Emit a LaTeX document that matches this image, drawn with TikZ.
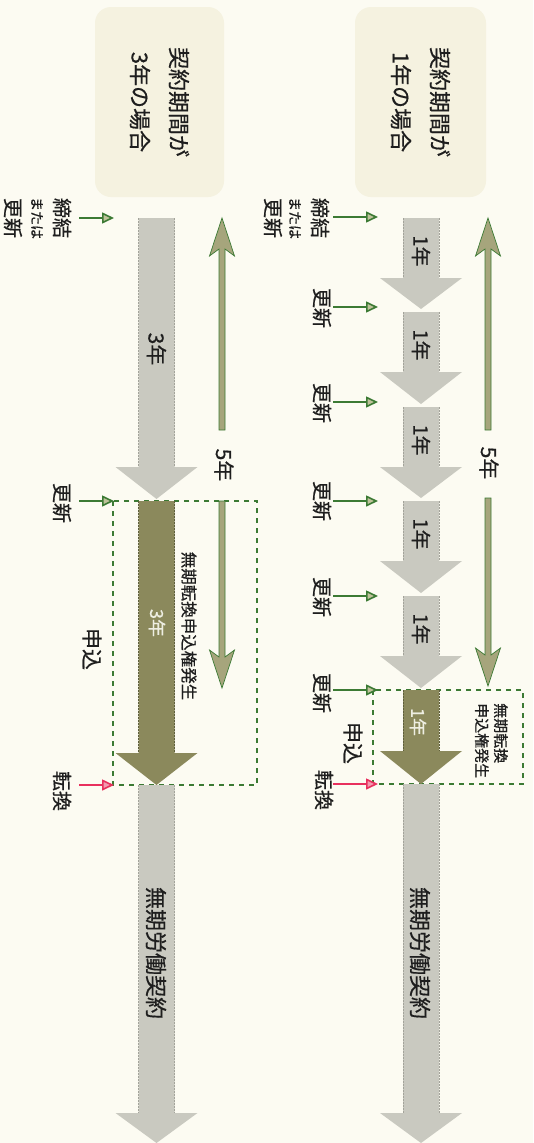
\documentclass[tikz,border=0pt]{standalone}
\usepackage{fontspec}
\setmainfont{Noto Sans CJK JP}[FakeBold=0.6]
\usetikzlibrary{arrows.meta}
\definecolor{bg}{HTML}{FCFBF2}
\definecolor{boxfill}{HTML}{F5F2E0}
\definecolor{grayarr}{HTML}{C9C9C0}
\definecolor{grayedge}{HTML}{A3A39A}
\definecolor{olivearr}{HTML}{8B895C}
\definecolor{oliveedge}{HTML}{5E5E3A}
\definecolor{fiveyr}{HTML}{A6A57C}
\definecolor{dkgreen}{HTML}{3C7A34}
\definecolor{pinkred}{HTML}{E8305E}
\definecolor{pinkhead}{HTML}{F29AB0}
\definecolor{headfill}{HTML}{BFC29A}
\definecolor{txt}{HTML}{1E1E1E}
\definecolor{paletxt}{HTML}{EEEEE2}

\newcommand\myarrow[5]{% xc, top, base, tip, colour name
  \fill[#5] (#1-18,#2) -- (#1+18,#2) -- (#1+18,#3) -- (#1+41,#3) -- (#1,#4) -- (#1-41,#3) -- (#1-18,#3) -- cycle;
  \draw[baredge, draw=#5edge] (#1-18,#2) -- (#1-18,#3) (#1+18,#2) -- (#1+18,#3);}
\colorlet{grayarredge}{grayedge}
\colorlet{olivearredge}{oliveedge}
\newcommand\fiveup[3]{% x, tip, shaft end
  \filldraw[fivestyle] (#1,#2) -- (#1+12.5,#2+38) -- (#1+3,#2+31) -- (#1+3,#3) -- (#1-3,#3) -- (#1-3,#2+31) -- (#1-12.5,#2+38) -- cycle;}
\newcommand\fivedown[3]{% x, shaft start, tip
  \filldraw[fivestyle] (#1-3,#2) -- (#1+3,#2) -- (#1+3,#3-31) -- (#1+12.5,#3-38) -- (#1,#3) -- (#1-12.5,#3-38) -- (#1-3,#3-31) -- cycle;}

\tikzset{
  vtext/.style={rotate=-90, text=txt, inner sep=0pt, font=\fontsize{20}{24}\selectfont},
  smalltext/.style={vtext, font=\fontsize{14}{16}\selectfont},
  titletext/.style={vtext, align=center, font=\fontsize{22}{39}\selectfont},
  yeartext/.style={vtext, font=\fontsize{20}{24}\selectfont},
  paleyear/.style={vtext, text=paletxt, font=\fontsize{18}{20}\selectfont},
  righttext/.style={vtext, align=left, font=\fontsize{15}{19}\selectfont},
  labelbox/.style={fill=boxfill, rounded corners=16pt, inner sep=0pt},
  baredge/.style={line width=0.6pt, dash pattern=on 1.5pt off 1.5pt},
  fivestyle/.style={fill=fiveyr, draw=dkgreen, line width=0.7pt},
  smallarr/.style={draw=dkgreen, line width=1.6pt, -{Triangle[length=12pt,width=11pt,fill=headfill]}},
  redarr/.style={draw=pinkred, line width=1.6pt, -{Triangle[length=12pt,width=11pt,fill=pinkhead]}},
  dashbox/.style={draw=dkgreen, line width=2.2pt, dash pattern=on 5pt off 5pt},
}

\begin{document}
\begin{tikzpicture}[x=1pt, y=-1pt]
\useasboundingbox (0,0) rectangle (533,1143);
\fill[bg] (0,0) rectangle (533,1143);

% ---------- title boxes ----------
\node[labelbox, minimum width=131pt, minimum height=190pt] (boxA) at (420.5,102) {};
\node[titletext] (titleA) at (boxA.center) {契約期間が\\1年の場合};
\node[labelbox, minimum width=129pt, minimum height=190pt] (boxB) at (159.5,102) {};
\node[titletext] (titleB) at (boxB.center) {契約期間が\\3年の場合};

% ---------- dashed boxes ----------
\draw[dashbox] (373,690) rectangle (523,784);
\draw[dashbox] (113,501) rectangle (257,785);

% ---------- right column: 1-year contracts ----------
\myarrow{421}{218}{278}{309}{grayarr}
\myarrow{421}{312}{372}{404}{grayarr}
\myarrow{421}{407}{467}{498}{grayarr}
\myarrow{421}{501}{561}{593}{grayarr}
\myarrow{421}{596}{656}{688}{grayarr}
\myarrow{421}{690}{751}{784}{olivearr}
\myarrow{421}{784}{1113}{1143}{grayarr}
\node[yeartext] (r1) at (421,251) {1年};
\node[yeartext] (r2) at (421,345) {1年};
\node[yeartext] (r3) at (421,440) {1年};
\node[yeartext] (r4) at (421,534) {1年};
\node[yeartext] (r5) at (421,629) {1年};
\node[paleyear] (r6) at (418,722) {1年};
\node[vtext, font=\fontsize{22}{24}\selectfont] (rlong) at (420,953) {無期労働契約};

% 5-year span, right
\fiveup{488}{218}{430}
\fivedown{488}{498}{686}
\node[vtext, font=\fontsize{21}{24}\selectfont] (r5y) at (489,463) {5年};
\node[righttext, anchor=north west] (rnote) at (508,703) {無期転換\\申込権発生};

% labels and small arrows, right
\node[vtext] (rl1a) at (320,218) {締結};
\node[smalltext] (rl1b) at (295,218) {または};
\node[vtext] (rl1c) at (273,218) {更新};
\node[vtext] (rl2) at (322,308) {更新};
\node[vtext] (rl3) at (322,403) {更新};
\node[vtext] (rl4) at (322,501) {更新};
\node[vtext] (rl5) at (322,597) {更新};
\node[vtext] (rl6) at (322,693) {更新};
\node[vtext] (rconv) at (324,790) {転換};
\node[vtext, font=\fontsize{21}{24}\selectfont] (rapp) at (353,743) {申込};
\coordinate (ra1s) at (333,217); \coordinate (ra1e) at (378,217);
\coordinate (ra2s) at (333,307); \coordinate (ra2e) at (378,307);
\coordinate (ra3s) at (333,402); \coordinate (ra3e) at (378,402);
\coordinate (ra4s) at (333,501); \coordinate (ra4e) at (378,501);
\coordinate (ra5s) at (333,596); \coordinate (ra5e) at (378,596);
\coordinate (ra6s) at (333,690); \coordinate (ra6e) at (378,690);
\coordinate (ra7s) at (333,784); \coordinate (ra7e) at (378,784);
\draw[smallarr] (ra1s) -- (ra1e);
\draw[smallarr] (ra2s) -- (ra2e);
\draw[smallarr] (ra3s) -- (ra3e);
\draw[smallarr] (ra4s) -- (ra4e);
\draw[smallarr] (ra5s) -- (ra5e);
\draw[smallarr] (ra6s) -- (ra6e);
\draw[redarr] (ra7s) -- (ra7e);

% ---------- left column: 3-year contracts ----------
\myarrow{156.5}{218}{467}{499}{grayarr}
\myarrow{156.5}{501}{753}{785}{olivearr}
\myarrow{156.5}{785}{1113}{1143}{grayarr}
\node[vtext, font=\fontsize{21}{24}\selectfont] (l1) at (156.5,349) {3年};
\node[paleyear] (l2) at (157,623) {3年};
\node[vtext, font=\fontsize{22}{24}\selectfont] (llong) at (156,953) {無期労働契約};

% 5-year span, left
\fiveup{222}{218}{430}
\fivedown{222}{501}{688}
\node[vtext, font=\fontsize{21}{24}\selectfont] (l5y) at (224,465) {5年};
\node[vtext, font=\fontsize{16.5}{20}\selectfont] (lnote) at (189,626) {無期転換申込権発生};

% labels and small arrows, left
\node[vtext] (ll1a) at (62,218) {締結};
\node[smalltext] (ll1b) at (37,218) {または};
\node[vtext] (ll1c) at (13,218) {更新};
\node[vtext] (ll2) at (62,503) {更新};
\node[vtext] (lconv) at (62,791) {転換};
\node[vtext, font=\fontsize{21}{24}\selectfont] (lapp) at (92,649) {申込};
\coordinate (la1s) at (79,218); \coordinate (la1e) at (114,218);
\coordinate (la2s) at (79,501); \coordinate (la2e) at (114,501);
\coordinate (la3s) at (79,785); \coordinate (la3e) at (114,785);
\draw[smallarr] (la1s) -- (la1e);
\draw[smallarr] (la2s) -- (la2e);
\draw[redarr] (la3s) -- (la3e);
\end{tikzpicture}
\end{document}
